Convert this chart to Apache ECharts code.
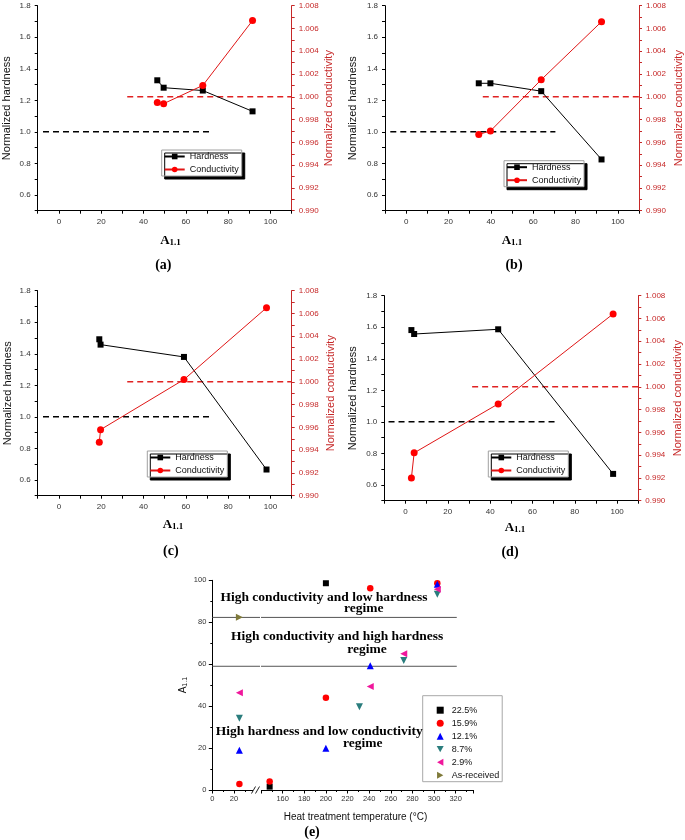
<!DOCTYPE html>
<html><head><meta charset="utf-8">
<script src="https://cdn.jsdelivr.net/npm/echarts@6/dist/echarts.min.js"></script>
<style>html,body{margin:0;padding:0;background:#fff}#c{width:685px;height:840px}</style>
</head><body><div id="c"></div>
<script>
// ---------- Panel (a)-(d): A1.1 vs normalized hardness / conductivity ----------
const A11_a = [46.5, 49.5, 68.0, 91.5];
const hardness_a = [1.327, 1.280, 1.262, 1.130];
const conductivity_a = [0.9995, 0.9994, 1.0010, 1.0067];

const A11_b = [34.3, 39.8, 63.8, 92.3];
const hardness_b = [1.308, 1.308, 1.258, 0.825];
const conductivity_b = [0.9967, 0.9970, 1.0015, 1.0066];

const A11_c = [19.1, 19.7, 59.1, 98.1];
const hardness_c = [1.492, 1.458, 1.380, 0.666];
const conductivity_c = [0.9947, 0.9958, 1.0002, 1.0065];

const A11_d = [2.8, 4.1, 43.8, 98.1];
const hardness_d = [1.582, 1.557, 1.587, 0.670];
const conductivity_d = [0.9920, 0.9942, 0.9985, 1.0064];

// reference (dashed) lines: [xStart, xEnd] at value 1.0
const hardnessRefX = [[-7.5, 71], [-7.5, 70.5], [-7.5, 71], [-8, 70.5]];
const conductivityRefX = [[32.3, 110], [36.2, 110], [32.3, 110], [31.5, 110]];
const refValue = 1.0;

// ---------- Panel (e): A1.1 vs heat treatment temperature ----------
const eSeriesNames = ['22.5%', '15.9%', '12.1%', '8.7%', '2.9%', 'As-received'];
const temp_225 = [148, 200];
const A11_225 = [1.6, 98.6];
const temp_159 = [25, 148, 200, 241, 303];
const A11_159 = [2.9, 4.0, 44.0, 96.2, 98.6];
const temp_121 = [25, 200, 241, 303];
const A11_121 = [18.9, 19.9, 59.3, 98.1];
const temp_87 = [25, 231, 272, 303];
const A11_87 = [34.2, 39.7, 61.7, 93.3];
const temp_29 = [25, 241, 272, 303];
const A11_29 = [46.4, 49.4, 65.0, 95.7];
const temp_asr = [25];
const A11_asr = [82.4];
const regimeBoundaries = [82.3, 59.0];
const regimeLineEnd = 321;

// x / y tick ranges
const xTicksAD = {min: -10, max: 110, interval: 10};
const hardnessAxis = {min: 0.5, max: 1.8, interval: 0.1};
const condAxis = {min: 0.990, max: 1.008, interval: 0.002};

const SANS = 'Liberation Sans, Arial, sans-serif';
const SERIF = 'Liberation Serif, Times New Roman, serif';
const AXRED = '#c62828';
const zip = (xs, ys) => xs.map((x, i) => [x, ys[i]]);

const panels = [
  {grid: {left: 37.7, top: 5.7, width: 254, height: 205}, leg: {left: 161.7, top: 150}, lgap: 25, rgap: 32, A: [170.5, 240.5], tag: ['(a)', 163.3, 265.7],
   x: A11_a, h: hardness_a, c: conductivity_a},
  {grid: {left: 385, top: 5.7, width: 254, height: 205}, leg: {left: 504, top: 160.7}, lgap: 27, rgap: 34, A: [512, 240.5], tag: ['(b)', 514, 265.3],
   x: A11_b, h: hardness_b, c: conductivity_b},
  {grid: {left: 37.7, top: 290.7, width: 254, height: 205}, leg: {left: 147.3, top: 451}, lgap: 24, rgap: 33.5, A: [173, 524.5], tag: ['(c)', 170.8, 551],
   x: A11_c, h: hardness_c, c: conductivity_c},
  {grid: {left: 384.3, top: 295.7, width: 254, height: 205}, leg: {left: 488.3, top: 451}, lgap: 25.5, rgap: 34.5, A: [515, 527.5], tag: ['(d)', 510, 552.3],
   x: A11_d, h: hardness_d, c: conductivity_d}
];

const grids = [], xAxes = [], yAxes = [], series = [], legends = [], graphics = [];

panels.forEach((p, i) => {
  grids.push(Object.assign({outerBoundsMode: 'none', containLabel: false}, p.grid));
  xAxes.push({
    type: 'value', gridIndex: i, min: xTicksAD.min, max: xTicksAD.max, interval: xTicksAD.interval,
    splitLine: {show: false},
    axisLine: {show: true, onZero: false, lineStyle: {color: '#000', width: 1}},
    axisTick: {show: true, inside: false, length: 3, lineStyle: {color: '#000'}},
    axisLabel: {show: true, margin: 7, fontSize: 8, fontFamily: SANS, color: '#333',
      formatter: v => { const k = Math.round(v); return (k % 20 === 0 && k >= 0 && k <= 100) ? String(k) : ''; }}
  });
  yAxes.push({
    type: 'value', gridIndex: i, position: 'left', min: hardnessAxis.min, max: hardnessAxis.max, interval: hardnessAxis.interval,
    name: 'Normalized hardness', nameLocation: 'middle', nameRotate: 90, nameGap: p.lgap,
    nameTextStyle: {fontFamily: SANS, fontSize: 11, color: '#111'},
    splitLine: {show: false},
    axisLine: {show: true, onZero: false, lineStyle: {color: '#000', width: 1}},
    axisTick: {show: true, length: 3, lineStyle: {color: '#000'}},
    axisLabel: {show: true, margin: 7, fontSize: 8, fontFamily: SANS, color: '#333',
      formatter: v => { const k = Math.round(v * 10); return (k % 2 === 0 && k >= 6) ? (k / 10).toFixed(1) : ''; }}
  });
  yAxes.push({
    type: 'value', gridIndex: i, position: 'right', min: condAxis.min, max: condAxis.max, interval: condAxis.interval,
    name: 'Normalized conductivity', nameLocation: 'middle', nameRotate: 90, nameGap: p.rgap,
    nameTextStyle: {fontFamily: SANS, fontSize: 11, color: AXRED},
    splitLine: {show: false},
    axisLine: {show: true, onZero: false, lineStyle: {color: AXRED, width: 1}},
    axisTick: {show: true, length: 3, lineStyle: {color: AXRED}},
    minorTick: {show: true, splitNumber: 2, length: 3, lineStyle: {color: AXRED}},
    axisLabel: {show: true, margin: 7, fontSize: 8, fontFamily: SANS, color: AXRED,
      formatter: v => v.toFixed(3)}
  });
  // reference dashed lines
  series.push({
    type: 'line', name: 'refH' + i, xAxisIndex: i, yAxisIndex: 2 * i, silent: true, symbol: 'none',
    data: hardnessRefX[i].map(x => [x, refValue]),
    lineStyle: {color: '#000', width: 1.5, type: [6, 4]}, z: 1
  });
  series.push({
    type: 'line', name: 'refC' + i, xAxisIndex: i, yAxisIndex: 2 * i + 1, silent: true, symbol: 'none',
    data: conductivityRefX[i].map(x => [x, refValue]),
    lineStyle: {color: '#e02222', width: 1.5, type: [6, 4]}, z: 1
  });
  series.push({
    type: 'line', name: 'Hardness', xAxisIndex: i, yAxisIndex: 2 * i, data: zip(p.x, p.h),
    symbol: 'rect', symbolSize: 6, itemStyle: {color: '#000', opacity: 1}, lineStyle: {color: '#000', width: 1}, z: 3
  });
  series.push({
    type: 'line', name: 'Conductivity', xAxisIndex: i, yAxisIndex: 2 * i + 1, data: zip(p.x, p.c),
    symbol: 'circle', symbolSize: 7, itemStyle: {color: '#ff0000', opacity: 1}, lineStyle: {color: '#e01515', width: 1}, z: 3
  });
  legends.push({
    left: p.leg.left, top: p.leg.top, orient: 'vertical', data: ['Hardness', 'Conductivity'],
    itemWidth: 20, itemHeight: 7, itemGap: 4, padding: [2, 3, 2, 2], selectedMode: false,
    backgroundColor: '#fff', borderColor: '#a0a0a0', borderWidth: 1,
    shadowColor: '#000', shadowOffsetX: 3, shadowOffsetY: 3, shadowBlur: 0,
    textStyle: {fontFamily: SANS, fontSize: 9, color: '#111'}
  });
  graphics.push({
    type: 'text', x: p.A[0], y: p.A[1], silent: true,
    style: {text: '{a|A}{s|1.1}', align: 'center', verticalAlign: 'middle',
      rich: {a: {fontFamily: SERIF, fontWeight: 'bold', fontSize: 13, lineHeight: 14, verticalAlign: 'bottom'},
             s: {fontFamily: SERIF, fontWeight: 'bold', fontSize: 9, lineHeight: 10, verticalAlign: 'bottom'}}}
  });
  graphics.push({
    type: 'text', x: p.tag[1], y: p.tag[2], silent: true,
    style: {text: p.tag[0], align: 'center', verticalAlign: 'middle', fontFamily: SERIF, fontWeight: 'bold', fontSize: 14, fill: '#000'}
  });
});

// ---------- panel (e): broken x axis as two grids ----------
const eTop = 580.3, eH = 209.7;
const xLeftRange = {min: 0, max: 44, interval: 20};
const xRightRange = {min: 140, max: 336, interval: 20};
grids.push({left: 212.3, top: eTop, width: 47.7, height: eH, outerBoundsMode: 'none', containLabel: false});
grids.push({left: 261, top: eTop, width: 212, height: eH, outerBoundsMode: 'none', containLabel: false});
const eXBase = {
  type: 'value', splitLine: {show: false},
  axisLine: {show: true, onZero: false, lineStyle: {color: '#000', width: 1}},
  axisTick: {show: true, length: 3.5, lineStyle: {color: '#000'}},
  minorTick: {show: true, splitNumber: 2, length: 2, lineStyle: {color: '#000'}},
  axisLabel: {show: true, margin: 5, fontSize: 7.5, fontFamily: SANS, color: '#333'}
};
xAxes.push(Object.assign({}, eXBase, {gridIndex: 4}, xLeftRange,
  {axisLabel: Object.assign({}, eXBase.axisLabel, {formatter: v => (v === 0 || v === 20) ? String(v) : ''})}));
xAxes.push(Object.assign({}, eXBase, {gridIndex: 5}, xRightRange,
  {axisLabel: Object.assign({}, eXBase.axisLabel, {formatter: v => (v >= 160 && v <= 320 && v % 20 === 0) ? String(v) : ''})}));
const eYIdx = yAxes.length;
yAxes.push({
  type: 'value', gridIndex: 4, position: 'left', min: 0, max: 100, interval: 20,
  name: '{a|A}{s|1.1}', nameLocation: 'middle', nameRotate: 90, nameGap: 24,
  nameTextStyle: {rich: {a: {fontFamily: SANS, fontSize: 10, lineHeight: 11, verticalAlign: 'bottom', color: '#111'},
                         s: {fontFamily: SANS, fontSize: 7, lineHeight: 8, verticalAlign: 'bottom', color: '#111'}}},
  splitLine: {show: false},
  axisLine: {show: true, onZero: false, lineStyle: {color: '#000', width: 1}},
  axisTick: {show: true, length: 3.5, lineStyle: {color: '#000'}},
  minorTick: {show: true, splitNumber: 2, length: 2, lineStyle: {color: '#000'}},
  axisLabel: {show: true, margin: 6, fontSize: 7.5, fontFamily: SANS, color: '#333'}
});
yAxes.push({type: 'value', gridIndex: 5, min: 0, max: 100, interval: 20, show: false});

// regime boundary lines
regimeBoundaries.forEach((yv, k) => {
  series.push({type: 'line', name: 'regL' + k, xAxisIndex: 4, yAxisIndex: eYIdx, silent: true, symbol: 'none',
    data: [[xLeftRange.min, yv], [xLeftRange.max, yv]], lineStyle: {color: '#555', width: 1}, z: 1});
  series.push({type: 'line', name: 'regR' + k, xAxisIndex: 5, yAxisIndex: eYIdx + 1, silent: true, symbol: 'none',
    data: [[xRightRange.min, yv], [regimeLineEnd, yv]], lineStyle: {color: '#555', width: 1}, z: 1});
});

const eGroups = [
  {name: eSeriesNames[0], t: temp_225, v: A11_225, symbol: 'rect', size: 6, color: '#000000'},
  {name: eSeriesNames[1], t: temp_159, v: A11_159, symbol: 'circle', size: 6.5, color: '#ff0000'},
  {name: eSeriesNames[2], t: temp_121, v: A11_121, symbol: 'triangle', size: 7, color: '#0000ff'},
  {name: eSeriesNames[3], t: temp_87, v: A11_87, symbol: 'path://M0,0 L10,0 L5,9 Z', size: 7, color: '#2a7d7d'},
  {name: eSeriesNames[4], t: temp_29, v: A11_29, symbol: 'path://M9,0 L9,10 L0,5 Z', size: 7, color: '#f0179c'},
  {name: eSeriesNames[5], t: temp_asr, v: A11_asr, symbol: 'path://M0,0 L9,5 L0,10 Z', size: 7, color: '#7f7a3a'}
];
eGroups.forEach(g => {
  const pts = zip(g.t, g.v);
  series.push({type: 'scatter', name: g.name, xAxisIndex: 4, yAxisIndex: eYIdx, symbol: g.symbol, symbolSize: g.size,
    itemStyle: {color: g.color, opacity: 1}, data: pts.filter(p => p[0] <= xLeftRange.max), z: 4});
  series.push({type: 'scatter', name: g.name, xAxisIndex: 5, yAxisIndex: eYIdx + 1, symbol: g.symbol, symbolSize: g.size,
    itemStyle: {color: g.color, opacity: 1}, data: pts.filter(p => p[0] > xLeftRange.max), z: 4});
});
legends.push({
  left: 422.7, top: 695.7, orient: 'vertical', data: eSeriesNames, selectedMode: false,
  itemWidth: 7, itemHeight: 7, itemGap: 4, padding: [10, 3, 2, 14],
  backgroundColor: '#fff', borderColor: '#a8a8a8', borderWidth: 1,
  itemStyle: {opacity: 1},
  textStyle: {fontFamily: SANS, fontSize: 9, color: '#111', padding: [0, 0, 0, 3]}
});

// annotations for (e)
const regimeTexts = [
  ['High conductivity and low hardness', 324, 597.5], ['regime', 363.7, 608.5],
  ['High conductivity and high hardness', 337.2, 636.5], ['regime', 367, 649.5],
  ['High hardness and low conductivity', 319.3, 732], ['regime', 362.7, 743.5]
];
regimeTexts.forEach(t => graphics.push({
  type: 'text', x: t[1], y: t[2], silent: true, z: 10,
  style: {text: t[0], align: 'center', verticalAlign: 'middle', fontFamily: SERIF, fontWeight: 'bold', fontSize: 13.5, fill: '#000'}
}));
graphics.push({type: 'text', x: 355.5, y: 817.3, silent: true,
  style: {text: 'Heat treatment temperature (°C)', align: 'center', verticalAlign: 'middle', fontFamily: SANS, fontSize: 10, fill: '#111'}});
graphics.push({type: 'text', x: 312, y: 832, silent: true,
  style: {text: '(e)', align: 'center', verticalAlign: 'middle', fontFamily: SERIF, fontWeight: 'bold', fontSize: 14, fill: '#000'}});
// axis break mark
graphics.push({type: 'rect', shape: {x: 253, y: 786, width: 8, height: 9}, style: {fill: '#fff'}, silent: true, z: 20});
graphics.push({type: 'line', shape: {x1: 251.5, y1: 793.5, x2: 255.5, y2: 786.5}, style: {stroke: '#222', lineWidth: 1}, silent: true, z: 21});
graphics.push({type: 'line', shape: {x1: 255.5, y1: 793.5, x2: 259.5, y2: 786.5}, style: {stroke: '#222', lineWidth: 1}, silent: true, z: 21});

const chart = echarts.init(document.getElementById('c'), null, {renderer: 'canvas'});
chart.setOption({
  animation: false,
  backgroundColor: '#fff',
  grid: grids, xAxis: xAxes, yAxis: yAxes, legend: legends, series: series,
  graphic: graphics
});
</script>
</body></html>
